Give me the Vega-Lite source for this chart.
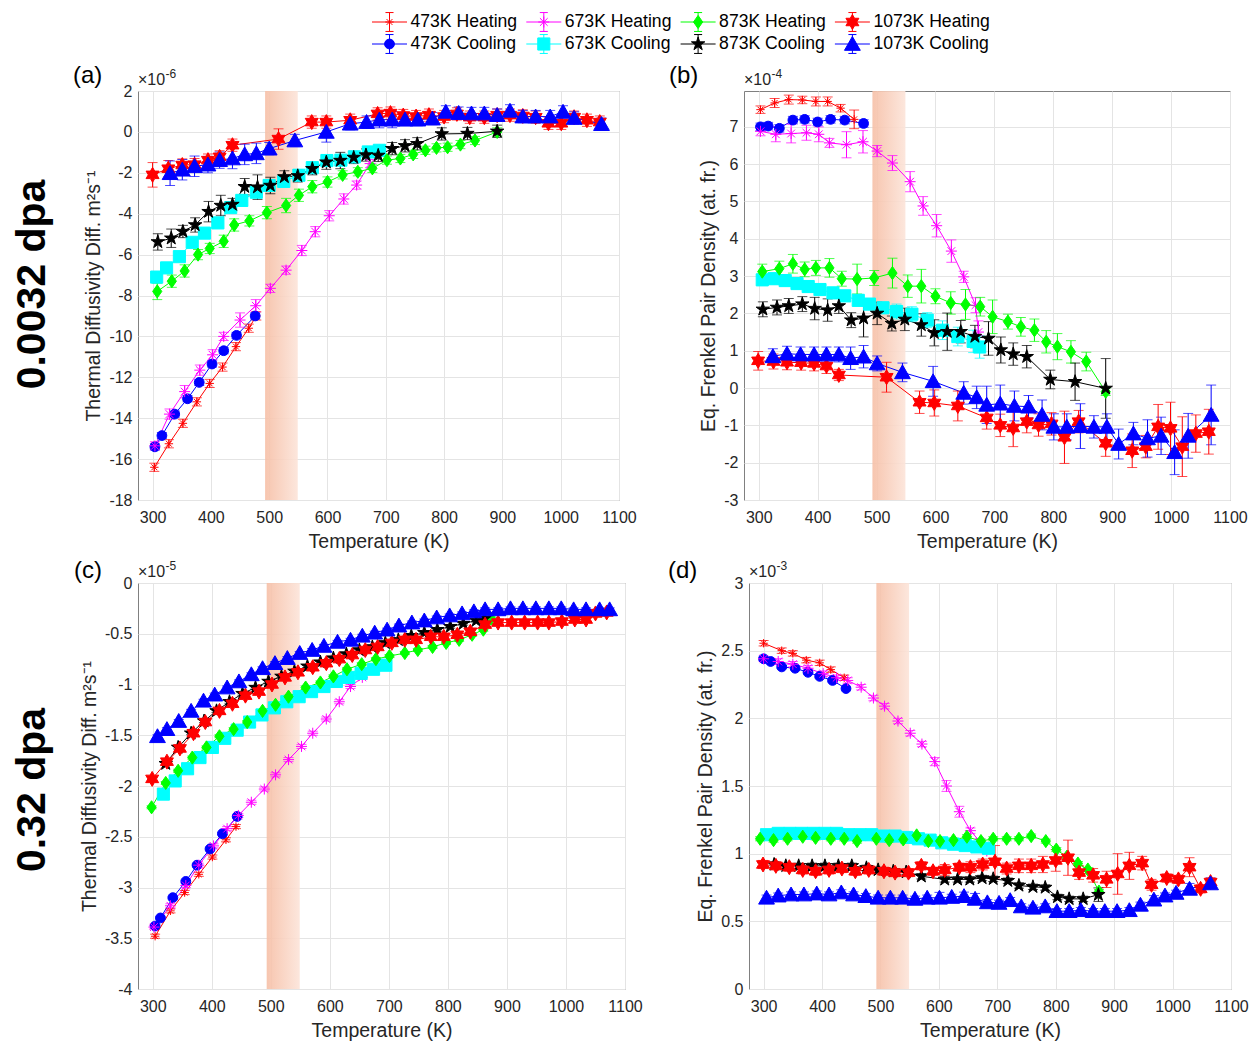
{
  "$schema": "https://vega.github.io/schema/vega-lite/v6.json",
  "padding": {"left": 11, "top": 10, "right": 5, "bottom": 4},
  "background": "white",
  "config": {
    "font": "Liberation Sans",
    "view": {"stroke": "#808080", "strokeWidth": 1},
    "axis": {
      "labelFontSize": 16, "labelColor": "#262626",
      "titleFontSize": 19.5, "titleFontWeight": "normal", "titleColor": "#262626",
      "domain": false, "ticks": false, "tickSize": 0,
      "grid": true, "gridColor": "#e4e4e4", "gridWidth": 1,
      "labelFlush": false, "labelOverlap": false
    },
    "axisX": {"labelPadding": 9, "titlePadding": 7},
    "axisY": {"labelPadding": 6, "titlePadding": 5},
    "legend": {"disable": true}
  },
  "datasets": {
    "pts": [
      {"p":"a","s":"473K Heating","T":303,"v":-16.4,"e":0.2},
      {"p":"a","s":"473K Heating","T":328,"v":-15.25,"e":0.2},
      {"p":"a","s":"473K Heating","T":352,"v":-14.25,"e":0.2},
      {"p":"a","s":"473K Heating","T":376,"v":-13.2,"e":0.2},
      {"p":"a","s":"473K Heating","T":398,"v":-12.3,"e":0.2},
      {"p":"a","s":"473K Heating","T":420,"v":-11.5,"e":0.2},
      {"p":"a","s":"473K Heating","T":443,"v":-10.5,"e":0.2},
      {"p":"a","s":"473K Heating","T":465,"v":-9.6,"e":0.2},
      {"p":"a","s":"473K Heating","T":478,"v":-9.0,"e":0.2},
      {"p":"a","s":"473K Cooling","T":304,"v":-15.4,"e":0.15},
      {"p":"a","s":"473K Cooling","T":316,"v":-14.85,"e":0.15},
      {"p":"a","s":"473K Cooling","T":338,"v":-13.8,"e":0.15},
      {"p":"a","s":"473K Cooling","T":360,"v":-13.05,"e":0.15},
      {"p":"a","s":"473K Cooling","T":380,"v":-12.25,"e":0.15},
      {"p":"a","s":"473K Cooling","T":402,"v":-11.35,"e":0.15},
      {"p":"a","s":"473K Cooling","T":422,"v":-10.7,"e":0.15},
      {"p":"a","s":"473K Cooling","T":444,"v":-9.95,"e":0.15},
      {"p":"a","s":"473K Cooling","T":476,"v":-9.0,"e":0.15},
      {"p":"a","s":"673K Heating","T":304,"v":-15.35,"e":0.2},
      {"p":"a","s":"673K Heating","T":329,"v":-13.8,"e":0.25},
      {"p":"a","s":"673K Heating","T":355,"v":-12.7,"e":0.3},
      {"p":"a","s":"673K Heating","T":381,"v":-11.65,"e":0.25},
      {"p":"a","s":"673K Heating","T":403,"v":-10.9,"e":0.25},
      {"p":"a","s":"673K Heating","T":422,"v":-10.0,"e":0.2},
      {"p":"a","s":"673K Heating","T":450,"v":-9.2,"e":0.35},
      {"p":"a","s":"673K Heating","T":477,"v":-8.5,"e":0.3},
      {"p":"a","s":"673K Heating","T":502,"v":-7.65,"e":0.2},
      {"p":"a","s":"673K Heating","T":529,"v":-6.76,"e":0.2},
      {"p":"a","s":"673K Heating","T":556,"v":-5.8,"e":0.25},
      {"p":"a","s":"673K Heating","T":579,"v":-4.88,"e":0.25},
      {"p":"a","s":"673K Heating","T":603,"v":-4.1,"e":0.25},
      {"p":"a","s":"673K Heating","T":628,"v":-3.28,"e":0.25},
      {"p":"a","s":"673K Heating","T":650,"v":-2.6,"e":0.2},
      {"p":"a","s":"673K Heating","T":673,"v":-1.55,"e":0.2},
      {"p":"a","s":"673K Cooling","T":307,"v":-7.1,"e":0.2},
      {"p":"a","s":"673K Cooling","T":324,"v":-6.65,"e":0.2},
      {"p":"a","s":"673K Cooling","T":346,"v":-6.1,"e":0.2},
      {"p":"a","s":"673K Cooling","T":368,"v":-5.4,"e":0.2},
      {"p":"a","s":"673K Cooling","T":389,"v":-4.95,"e":0.2},
      {"p":"a","s":"673K Cooling","T":412,"v":-4.45,"e":0.2},
      {"p":"a","s":"673K Cooling","T":434,"v":-3.7,"e":0.2},
      {"p":"a","s":"673K Cooling","T":453,"v":-3.35,"e":0.2},
      {"p":"a","s":"673K Cooling","T":478,"v":-2.95,"e":0.2},
      {"p":"a","s":"673K Cooling","T":500,"v":-2.62,"e":0.2},
      {"p":"a","s":"673K Cooling","T":525,"v":-2.42,"e":0.2},
      {"p":"a","s":"673K Cooling","T":551,"v":-2.12,"e":0.2},
      {"p":"a","s":"673K Cooling","T":574,"v":-1.75,"e":0.2},
      {"p":"a","s":"673K Cooling","T":599,"v":-1.4,"e":0.2},
      {"p":"a","s":"673K Cooling","T":623,"v":-1.38,"e":0.2},
      {"p":"a","s":"673K Cooling","T":646,"v":-1.22,"e":0.2},
      {"p":"a","s":"673K Cooling","T":670,"v":-0.98,"e":0.2},
      {"p":"a","s":"673K Cooling","T":689,"v":-0.9,"e":0.2},
      {"p":"a","s":"873K Heating","T":308,"v":-7.8,"e":0.4},
      {"p":"a","s":"873K Heating","T":333,"v":-7.3,"e":0.3},
      {"p":"a","s":"873K Heating","T":355,"v":-6.8,"e":0.3},
      {"p":"a","s":"873K Heating","T":378,"v":-6.0,"e":0.25},
      {"p":"a","s":"873K Heating","T":398,"v":-5.7,"e":0.25},
      {"p":"a","s":"873K Heating","T":422,"v":-5.35,"e":0.3},
      {"p":"a","s":"873K Heating","T":440,"v":-4.55,"e":0.3},
      {"p":"a","s":"873K Heating","T":466,"v":-4.35,"e":0.25},
      {"p":"a","s":"873K Heating","T":496,"v":-3.95,"e":0.3},
      {"p":"a","s":"873K Heating","T":529,"v":-3.6,"e":0.35},
      {"p":"a","s":"873K Heating","T":551,"v":-3.1,"e":0.3},
      {"p":"a","s":"873K Heating","T":574,"v":-2.68,"e":0.3},
      {"p":"a","s":"873K Heating","T":600,"v":-2.45,"e":0.25},
      {"p":"a","s":"873K Heating","T":626,"v":-2.1,"e":0.2},
      {"p":"a","s":"873K Heating","T":652,"v":-1.95,"e":0.2},
      {"p":"a","s":"873K Heating","T":677,"v":-1.78,"e":0.2},
      {"p":"a","s":"873K Heating","T":702,"v":-1.38,"e":0.2},
      {"p":"a","s":"873K Heating","T":725,"v":-1.3,"e":0.2},
      {"p":"a","s":"873K Heating","T":747,"v":-1.1,"e":0.2},
      {"p":"a","s":"873K Heating","T":768,"v":-0.9,"e":0.2},
      {"p":"a","s":"873K Heating","T":787,"v":-0.78,"e":0.2},
      {"p":"a","s":"873K Heating","T":806,"v":-0.75,"e":0.2},
      {"p":"a","s":"873K Heating","T":828,"v":-0.62,"e":0.2},
      {"p":"a","s":"873K Heating","T":853,"v":-0.42,"e":0.2},
      {"p":"a","s":"873K Heating","T":891,"v":0.0,"e":0.2},
      {"p":"a","s":"873K Cooling","T":309,"v":-5.38,"e":0.4},
      {"p":"a","s":"873K Cooling","T":332,"v":-5.2,"e":0.45},
      {"p":"a","s":"873K Cooling","T":352,"v":-4.87,"e":0.3},
      {"p":"a","s":"873K Cooling","T":373,"v":-4.55,"e":0.35},
      {"p":"a","s":"873K Cooling","T":396,"v":-3.9,"e":0.5},
      {"p":"a","s":"873K Cooling","T":417,"v":-3.6,"e":0.5},
      {"p":"a","s":"873K Cooling","T":437,"v":-3.55,"e":0.3},
      {"p":"a","s":"873K Cooling","T":458,"v":-2.68,"e":0.4},
      {"p":"a","s":"873K Cooling","T":480,"v":-2.7,"e":0.6},
      {"p":"a","s":"873K Cooling","T":502,"v":-2.62,"e":0.4},
      {"p":"a","s":"873K Cooling","T":526,"v":-2.2,"e":0.3},
      {"p":"a","s":"873K Cooling","T":549,"v":-2.15,"e":0.3},
      {"p":"a","s":"873K Cooling","T":574,"v":-1.8,"e":0.3},
      {"p":"a","s":"873K Cooling","T":598,"v":-1.48,"e":0.35},
      {"p":"a","s":"873K Cooling","T":622,"v":-1.4,"e":0.4},
      {"p":"a","s":"873K Cooling","T":645,"v":-1.25,"e":0.3},
      {"p":"a","s":"873K Cooling","T":666,"v":-1.13,"e":0.3},
      {"p":"a","s":"873K Cooling","T":687,"v":-1.15,"e":0.3},
      {"p":"a","s":"873K Cooling","T":711,"v":-0.82,"e":0.3},
      {"p":"a","s":"873K Cooling","T":733,"v":-0.68,"e":0.3},
      {"p":"a","s":"873K Cooling","T":754,"v":-0.58,"e":0.3},
      {"p":"a","s":"873K Cooling","T":796,"v":-0.1,"e":0.3},
      {"p":"a","s":"873K Cooling","T":840,"v":-0.08,"e":0.3},
      {"p":"a","s":"873K Cooling","T":891,"v":0.03,"e":0.3},
      {"p":"a","s":"1073K Heating","T":300,"v":-2.1,"e":0.6},
      {"p":"a","s":"1073K Heating","T":327,"v":-1.8,"e":0.4},
      {"p":"a","s":"1073K Heating","T":351,"v":-1.62,"e":0.3},
      {"p":"a","s":"1073K Heating","T":372,"v":-1.6,"e":0.3},
      {"p":"a","s":"1073K Heating","T":395,"v":-1.38,"e":0.3},
      {"p":"a","s":"1073K Heating","T":415,"v":-1.22,"e":0.3},
      {"p":"a","s":"1073K Heating","T":437,"v":-0.65,"e":0.3},
      {"p":"a","s":"1073K Heating","T":516,"v":-0.35,"e":0.5},
      {"p":"a","s":"1073K Heating","T":573,"v":0.48,"e":0.3},
      {"p":"a","s":"1073K Heating","T":598,"v":0.48,"e":0.3},
      {"p":"a","s":"1073K Heating","T":639,"v":0.57,"e":0.3},
      {"p":"a","s":"1073K Heating","T":686,"v":0.88,"e":0.3},
      {"p":"a","s":"1073K Heating","T":708,"v":0.92,"e":0.3},
      {"p":"a","s":"1073K Heating","T":730,"v":0.8,"e":0.3},
      {"p":"a","s":"1073K Heating","T":752,"v":0.75,"e":0.3},
      {"p":"a","s":"1073K Heating","T":774,"v":0.82,"e":0.3},
      {"p":"a","s":"1073K Heating","T":800,"v":0.75,"e":0.3},
      {"p":"a","s":"1073K Heating","T":822,"v":0.88,"e":0.3},
      {"p":"a","s":"1073K Heating","T":844,"v":0.72,"e":0.3},
      {"p":"a","s":"1073K Heating","T":869,"v":0.72,"e":0.3},
      {"p":"a","s":"1073K Heating","T":891,"v":0.82,"e":0.3},
      {"p":"a","s":"1073K Heating","T":913,"v":0.82,"e":0.3},
      {"p":"a","s":"1073K Heating","T":935,"v":0.78,"e":0.3},
      {"p":"a","s":"1073K Heating","T":957,"v":0.72,"e":0.3},
      {"p":"a","s":"1073K Heating","T":979,"v":0.42,"e":0.3},
      {"p":"a","s":"1073K Heating","T":1001,"v":0.42,"e":0.3},
      {"p":"a","s":"1073K Heating","T":1023,"v":0.72,"e":0.3},
      {"p":"a","s":"1073K Heating","T":1045,"v":0.57,"e":0.3},
      {"p":"a","s":"1073K Heating","T":1067,"v":0.48,"e":0.3},
      {"p":"a","s":"1073K Cooling","T":330,"v":-2.02,"e":0.6},
      {"p":"a","s":"1073K Cooling","T":351,"v":-1.85,"e":0.5},
      {"p":"a","s":"1073K Cooling","T":372,"v":-1.68,"e":0.5},
      {"p":"a","s":"1073K Cooling","T":395,"v":-1.6,"e":0.4},
      {"p":"a","s":"1073K Cooling","T":415,"v":-1.38,"e":0.4},
      {"p":"a","s":"1073K Cooling","T":437,"v":-1.3,"e":0.5},
      {"p":"a","s":"1073K Cooling","T":458,"v":-1.1,"e":0.5},
      {"p":"a","s":"1073K Cooling","T":478,"v":-1.05,"e":0.5},
      {"p":"a","s":"1073K Cooling","T":500,"v":-0.82,"e":0.3},
      {"p":"a","s":"1073K Cooling","T":544,"v":-0.42,"e":0.3},
      {"p":"a","s":"1073K Cooling","T":598,"v":0.0,"e":0.5},
      {"p":"a","s":"1073K Cooling","T":639,"v":0.4,"e":0.3},
      {"p":"a","s":"1073K Cooling","T":667,"v":0.48,"e":0.3},
      {"p":"a","s":"1073K Cooling","T":689,"v":0.6,"e":0.4},
      {"p":"a","s":"1073K Cooling","T":711,"v":0.6,"e":0.4},
      {"p":"a","s":"1073K Cooling","T":733,"v":0.6,"e":0.3},
      {"p":"a","s":"1073K Cooling","T":755,"v":0.6,"e":0.3},
      {"p":"a","s":"1073K Cooling","T":780,"v":0.65,"e":0.3},
      {"p":"a","s":"1073K Cooling","T":803,"v":0.98,"e":0.3},
      {"p":"a","s":"1073K Cooling","T":825,"v":0.92,"e":0.3},
      {"p":"a","s":"1073K Cooling","T":847,"v":0.9,"e":0.3},
      {"p":"a","s":"1073K Cooling","T":869,"v":0.9,"e":0.3},
      {"p":"a","s":"1073K Cooling","T":891,"v":0.82,"e":0.3},
      {"p":"a","s":"1073K Cooling","T":913,"v":1.03,"e":0.3},
      {"p":"a","s":"1073K Cooling","T":935,"v":0.75,"e":0.3},
      {"p":"a","s":"1073K Cooling","T":957,"v":0.75,"e":0.3},
      {"p":"a","s":"1073K Cooling","T":982,"v":0.75,"e":0.3},
      {"p":"a","s":"1073K Cooling","T":1004,"v":0.98,"e":0.3},
      {"p":"a","s":"1073K Cooling","T":1023,"v":0.68,"e":0.3},
      {"p":"a","s":"1073K Cooling","T":1070,"v":0.38,"e":0.3},

      {"p":"b","s":"473K Heating","T":303,"v":7.46,"e":0.1},
      {"p":"b","s":"473K Heating","T":327,"v":7.64,"e":0.12},
      {"p":"b","s":"473K Heating","T":351,"v":7.73,"e":0.12},
      {"p":"b","s":"473K Heating","T":374,"v":7.72,"e":0.1},
      {"p":"b","s":"473K Heating","T":397,"v":7.68,"e":0.12},
      {"p":"b","s":"473K Heating","T":417,"v":7.68,"e":0.12},
      {"p":"b","s":"473K Heating","T":439,"v":7.5,"e":0.1},
      {"p":"b","s":"473K Heating","T":462,"v":7.2,"e":0.25},
      {"p":"b","s":"473K Cooling","T":303,"v":7.0,"e":0.1},
      {"p":"b","s":"473K Cooling","T":316,"v":7.02,"e":0.1},
      {"p":"b","s":"473K Cooling","T":335,"v":6.96,"e":0.1},
      {"p":"b","s":"473K Cooling","T":358,"v":7.18,"e":0.1},
      {"p":"b","s":"473K Cooling","T":378,"v":7.2,"e":0.1},
      {"p":"b","s":"473K Cooling","T":400,"v":7.13,"e":0.1},
      {"p":"b","s":"473K Cooling","T":422,"v":7.2,"e":0.1},
      {"p":"b","s":"473K Cooling","T":446,"v":7.18,"e":0.1},
      {"p":"b","s":"473K Cooling","T":478,"v":7.09,"e":0.1},
      {"p":"b","s":"673K Heating","T":303,"v":6.88,"e":0.12},
      {"p":"b","s":"673K Heating","T":329,"v":6.8,"e":0.2},
      {"p":"b","s":"673K Heating","T":355,"v":6.82,"e":0.25},
      {"p":"b","s":"673K Heating","T":381,"v":6.84,"e":0.2},
      {"p":"b","s":"673K Heating","T":402,"v":6.8,"e":0.2},
      {"p":"b","s":"673K Heating","T":420,"v":6.57,"e":0.12},
      {"p":"b","s":"673K Heating","T":449,"v":6.52,"e":0.35},
      {"p":"b","s":"673K Heating","T":477,"v":6.6,"e":0.3},
      {"p":"b","s":"673K Heating","T":501,"v":6.35,"e":0.15},
      {"p":"b","s":"673K Heating","T":527,"v":6.03,"e":0.2},
      {"p":"b","s":"673K Heating","T":557,"v":5.53,"e":0.27},
      {"p":"b","s":"673K Heating","T":579,"v":4.88,"e":0.25},
      {"p":"b","s":"673K Heating","T":602,"v":4.35,"e":0.3},
      {"p":"b","s":"673K Heating","T":627,"v":3.67,"e":0.3},
      {"p":"b","s":"673K Heating","T":648,"v":2.98,"e":0.15},
      {"p":"b","s":"673K Heating","T":668,"v":2.22,"e":0.2},
      {"p":"b","s":"673K Heating","T":673,"v":1.5,"e":0.3},
      {"p":"b","s":"673K Cooling","T":306,"v":2.9,"e":0.15},
      {"p":"b","s":"673K Cooling","T":326,"v":2.93,"e":0.15},
      {"p":"b","s":"673K Cooling","T":345,"v":2.88,"e":0.15},
      {"p":"b","s":"673K Cooling","T":365,"v":2.8,"e":0.15},
      {"p":"b","s":"673K Cooling","T":384,"v":2.72,"e":0.15},
      {"p":"b","s":"673K Cooling","T":404,"v":2.64,"e":0.15},
      {"p":"b","s":"673K Cooling","T":426,"v":2.55,"e":0.15},
      {"p":"b","s":"673K Cooling","T":446,"v":2.47,"e":0.15},
      {"p":"b","s":"673K Cooling","T":469,"v":2.35,"e":0.15},
      {"p":"b","s":"673K Cooling","T":488,"v":2.25,"e":0.15},
      {"p":"b","s":"673K Cooling","T":511,"v":2.15,"e":0.15},
      {"p":"b","s":"673K Cooling","T":534,"v":2.05,"e":0.2},
      {"p":"b","s":"673K Cooling","T":560,"v":1.98,"e":0.2},
      {"p":"b","s":"673K Cooling","T":586,"v":1.82,"e":0.2},
      {"p":"b","s":"673K Cooling","T":612,"v":1.55,"e":0.25},
      {"p":"b","s":"673K Cooling","T":638,"v":1.38,"e":0.25},
      {"p":"b","s":"673K Cooling","T":664,"v":1.25,"e":0.3},
      {"p":"b","s":"673K Cooling","T":675,"v":1.1,"e":0.3},
      {"p":"b","s":"873K Heating","T":306,"v":3.12,"e":0.2},
      {"p":"b","s":"873K Heating","T":335,"v":3.2,"e":0.2},
      {"p":"b","s":"873K Heating","T":358,"v":3.33,"e":0.25},
      {"p":"b","s":"873K Heating","T":378,"v":3.18,"e":0.2},
      {"p":"b","s":"873K Heating","T":397,"v":3.22,"e":0.2},
      {"p":"b","s":"873K Heating","T":420,"v":3.22,"e":0.25},
      {"p":"b","s":"873K Heating","T":441,"v":2.93,"e":0.2},
      {"p":"b","s":"873K Heating","T":467,"v":2.92,"e":0.4},
      {"p":"b","s":"873K Heating","T":496,"v":2.95,"e":0.2},
      {"p":"b","s":"873K Heating","T":527,"v":3.08,"e":0.4},
      {"p":"b","s":"873K Heating","T":553,"v":2.73,"e":0.3},
      {"p":"b","s":"873K Heating","T":576,"v":2.73,"e":0.45},
      {"p":"b","s":"873K Heating","T":600,"v":2.46,"e":0.2},
      {"p":"b","s":"873K Heating","T":626,"v":2.28,"e":0.3},
      {"p":"b","s":"873K Heating","T":651,"v":2.24,"e":0.4},
      {"p":"b","s":"873K Heating","T":676,"v":2.18,"e":0.25},
      {"p":"b","s":"873K Heating","T":697,"v":1.91,"e":0.45},
      {"p":"b","s":"873K Heating","T":723,"v":1.78,"e":0.2},
      {"p":"b","s":"873K Heating","T":745,"v":1.64,"e":0.25},
      {"p":"b","s":"873K Heating","T":768,"v":1.55,"e":0.3},
      {"p":"b","s":"873K Heating","T":788,"v":1.24,"e":0.3},
      {"p":"b","s":"873K Heating","T":807,"v":1.11,"e":0.35},
      {"p":"b","s":"873K Heating","T":830,"v":0.97,"e":0.3},
      {"p":"b","s":"873K Heating","T":856,"v":0.71,"e":0.25},
      {"p":"b","s":"873K Heating","T":889,"v":-0.1,"e":0.1},
      {"p":"b","s":"873K Cooling","T":307,"v":2.11,"e":0.2},
      {"p":"b","s":"873K Cooling","T":331,"v":2.16,"e":0.2},
      {"p":"b","s":"873K Cooling","T":351,"v":2.2,"e":0.2},
      {"p":"b","s":"873K Cooling","T":374,"v":2.25,"e":0.2},
      {"p":"b","s":"873K Cooling","T":395,"v":2.13,"e":0.3},
      {"p":"b","s":"873K Cooling","T":417,"v":2.09,"e":0.3},
      {"p":"b","s":"873K Cooling","T":436,"v":2.2,"e":0.2},
      {"p":"b","s":"873K Cooling","T":457,"v":1.82,"e":0.2},
      {"p":"b","s":"873K Cooling","T":478,"v":1.87,"e":0.5},
      {"p":"b","s":"873K Cooling","T":501,"v":2.0,"e":0.3},
      {"p":"b","s":"873K Cooling","T":526,"v":1.73,"e":0.2},
      {"p":"b","s":"873K Cooling","T":548,"v":1.84,"e":0.3},
      {"p":"b","s":"873K Cooling","T":576,"v":1.69,"e":0.3},
      {"p":"b","s":"873K Cooling","T":598,"v":1.48,"e":0.35},
      {"p":"b","s":"873K Cooling","T":620,"v":1.51,"e":0.5},
      {"p":"b","s":"873K Cooling","T":643,"v":1.51,"e":0.3},
      {"p":"b","s":"873K Cooling","T":667,"v":1.38,"e":0.3},
      {"p":"b","s":"873K Cooling","T":690,"v":1.33,"e":0.45},
      {"p":"b","s":"873K Cooling","T":711,"v":1.02,"e":0.35},
      {"p":"b","s":"873K Cooling","T":732,"v":0.91,"e":0.3},
      {"p":"b","s":"873K Cooling","T":755,"v":0.84,"e":0.3},
      {"p":"b","s":"873K Cooling","T":795,"v":0.23,"e":0.25},
      {"p":"b","s":"873K Cooling","T":837,"v":0.17,"e":0.5},
      {"p":"b","s":"873K Cooling","T":889,"v":-0.01,"e":0.8},
      {"p":"b","s":"1073K Heating","T":299,"v":0.73,"e":0.25},
      {"p":"b","s":"1073K Heating","T":325,"v":0.71,"e":0.2},
      {"p":"b","s":"1073K Heating","T":348,"v":0.69,"e":0.2},
      {"p":"b","s":"1073K Heating","T":372,"v":0.68,"e":0.2},
      {"p":"b","s":"1073K Heating","T":394,"v":0.66,"e":0.2},
      {"p":"b","s":"1073K Heating","T":415,"v":0.59,"e":0.2},
      {"p":"b","s":"1073K Heating","T":436,"v":0.35,"e":0.15},
      {"p":"b","s":"1073K Heating","T":517,"v":0.29,"e":0.4},
      {"p":"b","s":"1073K Heating","T":573,"v":-0.38,"e":0.3},
      {"p":"b","s":"1073K Heating","T":598,"v":-0.4,"e":0.35},
      {"p":"b","s":"1073K Heating","T":638,"v":-0.48,"e":0.4},
      {"p":"b","s":"1073K Heating","T":687,"v":-0.8,"e":0.3},
      {"p":"b","s":"1073K Heating","T":710,"v":-1.0,"e":0.3},
      {"p":"b","s":"1073K Heating","T":732,"v":-1.07,"e":0.5},
      {"p":"b","s":"1073K Heating","T":755,"v":-0.9,"e":0.3},
      {"p":"b","s":"1073K Heating","T":775,"v":-0.99,"e":0.3},
      {"p":"b","s":"1073K Heating","T":797,"v":-0.96,"e":0.3},
      {"p":"b","s":"1073K Heating","T":819,"v":-1.32,"e":0.7},
      {"p":"b","s":"1073K Heating","T":843,"v":-0.9,"e":0.3},
      {"p":"b","s":"1073K Heating","T":889,"v":-1.48,"e":0.35},
      {"p":"b","s":"1073K Heating","T":934,"v":-1.68,"e":0.45},
      {"p":"b","s":"1073K Heating","T":957,"v":-1.57,"e":0.3},
      {"p":"b","s":"1073K Heating","T":978,"v":-1.04,"e":0.6},
      {"p":"b","s":"1073K Heating","T":999,"v":-1.08,"e":0.7},
      {"p":"b","s":"1073K Heating","T":1019,"v":-1.57,"e":0.8},
      {"p":"b","s":"1073K Heating","T":1042,"v":-1.22,"e":0.5},
      {"p":"b","s":"1073K Heating","T":1064,"v":-1.17,"e":0.6},
      {"p":"b","s":"1073K Cooling","T":324,"v":0.85,"e":0.2},
      {"p":"b","s":"1073K Cooling","T":348,"v":0.92,"e":0.2},
      {"p":"b","s":"1073K Cooling","T":371,"v":0.9,"e":0.2},
      {"p":"b","s":"1073K Cooling","T":394,"v":0.9,"e":0.2},
      {"p":"b","s":"1073K Cooling","T":415,"v":0.9,"e":0.2},
      {"p":"b","s":"1073K Cooling","T":436,"v":0.9,"e":0.2},
      {"p":"b","s":"1073K Cooling","T":456,"v":0.8,"e":0.3},
      {"p":"b","s":"1073K Cooling","T":478,"v":0.84,"e":0.3},
      {"p":"b","s":"1073K Cooling","T":501,"v":0.66,"e":0.2},
      {"p":"b","s":"1073K Cooling","T":544,"v":0.42,"e":0.25},
      {"p":"b","s":"1073K Cooling","T":596,"v":0.18,"e":0.4},
      {"p":"b","s":"1073K Cooling","T":648,"v":-0.13,"e":0.3},
      {"p":"b","s":"1073K Cooling","T":670,"v":-0.25,"e":0.3},
      {"p":"b","s":"1073K Cooling","T":687,"v":-0.45,"e":0.5},
      {"p":"b","s":"1073K Cooling","T":710,"v":-0.42,"e":0.5},
      {"p":"b","s":"1073K Cooling","T":734,"v":-0.48,"e":0.4},
      {"p":"b","s":"1073K Cooling","T":758,"v":-0.5,"e":0.3},
      {"p":"b","s":"1073K Cooling","T":781,"v":-0.72,"e":0.4},
      {"p":"b","s":"1073K Cooling","T":801,"v":-1.04,"e":0.35},
      {"p":"b","s":"1073K Cooling","T":823,"v":-1.04,"e":0.35},
      {"p":"b","s":"1073K Cooling","T":846,"v":-1.02,"e":0.6},
      {"p":"b","s":"1073K Cooling","T":869,"v":-1.04,"e":0.3},
      {"p":"b","s":"1073K Cooling","T":891,"v":-1.04,"e":0.35},
      {"p":"b","s":"1073K Cooling","T":911,"v":-1.5,"e":0.4},
      {"p":"b","s":"1073K Cooling","T":936,"v":-1.22,"e":0.3},
      {"p":"b","s":"1073K Cooling","T":960,"v":-1.35,"e":0.5},
      {"p":"b","s":"1073K Cooling","T":983,"v":-1.28,"e":0.5},
      {"p":"b","s":"1073K Cooling","T":1006,"v":-1.72,"e":0.6},
      {"p":"b","s":"1073K Cooling","T":1029,"v":-1.28,"e":0.6},
      {"p":"b","s":"1073K Cooling","T":1068,"v":-0.72,"e":0.8},

      {"p":"c","s":"473K Heating","T":304,"v":-3.48,"e":0.02},
      {"p":"c","s":"473K Heating","T":330,"v":-3.23,"e":0.02},
      {"p":"c","s":"473K Heating","T":354,"v":-3.05,"e":0.02},
      {"p":"c","s":"473K Heating","T":378,"v":-2.87,"e":0.02},
      {"p":"c","s":"473K Heating","T":401,"v":-2.7,"e":0.02},
      {"p":"c","s":"473K Heating","T":424,"v":-2.53,"e":0.02},
      {"p":"c","s":"473K Heating","T":441,"v":-2.4,"e":0.02},
      {"p":"c","s":"473K Cooling","T":304,"v":-3.38,"e":0.01},
      {"p":"c","s":"473K Cooling","T":313,"v":-3.3,"e":0.01},
      {"p":"c","s":"473K Cooling","T":334,"v":-3.1,"e":0.01},
      {"p":"c","s":"473K Cooling","T":356,"v":-2.94,"e":0.01},
      {"p":"c","s":"473K Cooling","T":375,"v":-2.78,"e":0.01},
      {"p":"c","s":"473K Cooling","T":397,"v":-2.62,"e":0.01},
      {"p":"c","s":"473K Cooling","T":418,"v":-2.47,"e":0.01},
      {"p":"c","s":"473K Cooling","T":443,"v":-2.3,"e":0.01},
      {"p":"c","s":"673K Heating","T":302,"v":-3.39,"e":0.02},
      {"p":"c","s":"673K Heating","T":330,"v":-3.18,"e":0.02},
      {"p":"c","s":"673K Heating","T":356,"v":-2.98,"e":0.02},
      {"p":"c","s":"673K Heating","T":378,"v":-2.78,"e":0.02},
      {"p":"c","s":"673K Heating","T":403,"v":-2.59,"e":0.02},
      {"p":"c","s":"673K Heating","T":426,"v":-2.42,"e":0.02},
      {"p":"c","s":"673K Heating","T":445,"v":-2.29,"e":0.02},
      {"p":"c","s":"673K Heating","T":467,"v":-2.16,"e":0.02},
      {"p":"c","s":"673K Heating","T":489,"v":-2.03,"e":0.02},
      {"p":"c","s":"673K Heating","T":508,"v":-1.89,"e":0.02},
      {"p":"c","s":"673K Heating","T":530,"v":-1.74,"e":0.02},
      {"p":"c","s":"673K Heating","T":552,"v":-1.61,"e":0.02},
      {"p":"c","s":"673K Heating","T":571,"v":-1.48,"e":0.02},
      {"p":"c","s":"673K Heating","T":594,"v":-1.34,"e":0.02},
      {"p":"c","s":"673K Heating","T":616,"v":-1.17,"e":0.02},
      {"p":"c","s":"673K Heating","T":635,"v":-1.02,"e":0.02},
      {"p":"c","s":"673K Heating","T":655,"v":-0.93,"e":0.02},
      {"p":"c","s":"673K Heating","T":676,"v":-0.84,"e":0.02},
      {"p":"c","s":"673K Cooling","T":318,"v":-2.08,"e":0.015},
      {"p":"c","s":"673K Cooling","T":338,"v":-1.95,"e":0.015},
      {"p":"c","s":"673K Cooling","T":359,"v":-1.83,"e":0.015},
      {"p":"c","s":"673K Cooling","T":380,"v":-1.72,"e":0.015},
      {"p":"c","s":"673K Cooling","T":401,"v":-1.62,"e":0.015},
      {"p":"c","s":"673K Cooling","T":422,"v":-1.53,"e":0.015},
      {"p":"c","s":"673K Cooling","T":443,"v":-1.45,"e":0.015},
      {"p":"c","s":"673K Cooling","T":464,"v":-1.37,"e":0.015},
      {"p":"c","s":"673K Cooling","T":485,"v":-1.3,"e":0.015},
      {"p":"c","s":"673K Cooling","T":506,"v":-1.23,"e":0.015},
      {"p":"c","s":"673K Cooling","T":527,"v":-1.17,"e":0.015},
      {"p":"c","s":"673K Cooling","T":548,"v":-1.12,"e":0.015},
      {"p":"c","s":"673K Cooling","T":569,"v":-1.07,"e":0.015},
      {"p":"c","s":"673K Cooling","T":590,"v":-1.02,"e":0.015},
      {"p":"c","s":"673K Cooling","T":611,"v":-0.97,"e":0.015},
      {"p":"c","s":"673K Cooling","T":632,"v":-0.93,"e":0.015},
      {"p":"c","s":"673K Cooling","T":653,"v":-0.89,"e":0.015},
      {"p":"c","s":"673K Cooling","T":674,"v":-0.85,"e":0.015},
      {"p":"c","s":"673K Cooling","T":695,"v":-0.81,"e":0.015},
      {"p":"c","s":"873K Heating","T":298,"v":-2.21,"e":0.015},
      {"p":"c","s":"873K Heating","T":322,"v":-1.97,"e":0.015},
      {"p":"c","s":"873K Heating","T":343,"v":-1.85,"e":0.015},
      {"p":"c","s":"873K Heating","T":367,"v":-1.72,"e":0.015},
      {"p":"c","s":"873K Heating","T":391,"v":-1.62,"e":0.015},
      {"p":"c","s":"873K Heating","T":413,"v":-1.51,"e":0.015},
      {"p":"c","s":"873K Heating","T":437,"v":-1.44,"e":0.015},
      {"p":"c","s":"873K Heating","T":460,"v":-1.37,"e":0.015},
      {"p":"c","s":"873K Heating","T":486,"v":-1.26,"e":0.015},
      {"p":"c","s":"873K Heating","T":508,"v":-1.2,"e":0.015},
      {"p":"c","s":"873K Heating","T":530,"v":-1.12,"e":0.015},
      {"p":"c","s":"873K Heating","T":559,"v":-1.03,"e":0.015},
      {"p":"c","s":"873K Heating","T":584,"v":-0.98,"e":0.015},
      {"p":"c","s":"873K Heating","T":606,"v":-0.92,"e":0.015},
      {"p":"c","s":"873K Heating","T":629,"v":-0.85,"e":0.015},
      {"p":"c","s":"873K Heating","T":654,"v":-0.8,"e":0.015},
      {"p":"c","s":"873K Heating","T":678,"v":-0.75,"e":0.015},
      {"p":"c","s":"873K Heating","T":701,"v":-0.72,"e":0.015},
      {"p":"c","s":"873K Heating","T":727,"v":-0.69,"e":0.015},
      {"p":"c","s":"873K Heating","T":749,"v":-0.66,"e":0.015},
      {"p":"c","s":"873K Heating","T":774,"v":-0.63,"e":0.015},
      {"p":"c","s":"873K Heating","T":797,"v":-0.59,"e":0.015},
      {"p":"c","s":"873K Heating","T":819,"v":-0.56,"e":0.015},
      {"p":"c","s":"873K Heating","T":841,"v":-0.51,"e":0.015},
      {"p":"c","s":"873K Heating","T":860,"v":-0.46,"e":0.015},
      {"p":"c","s":"873K Heating","T":873,"v":-0.35,"e":0.015},
      {"p":"c","s":"873K Cooling","T":322,"v":-1.78,"e":0.015},
      {"p":"c","s":"873K Cooling","T":343,"v":-1.62,"e":0.015},
      {"p":"c","s":"873K Cooling","T":365,"v":-1.48,"e":0.015},
      {"p":"c","s":"873K Cooling","T":387,"v":-1.36,"e":0.015},
      {"p":"c","s":"873K Cooling","T":408,"v":-1.26,"e":0.015},
      {"p":"c","s":"873K Cooling","T":430,"v":-1.17,"e":0.015},
      {"p":"c","s":"873K Cooling","T":452,"v":-1.09,"e":0.015},
      {"p":"c","s":"873K Cooling","T":474,"v":-1.03,"e":0.015},
      {"p":"c","s":"873K Cooling","T":496,"v":-0.97,"e":0.015},
      {"p":"c","s":"873K Cooling","T":518,"v":-0.92,"e":0.015},
      {"p":"c","s":"873K Cooling","T":540,"v":-0.87,"e":0.015},
      {"p":"c","s":"873K Cooling","T":562,"v":-0.82,"e":0.015},
      {"p":"c","s":"873K Cooling","T":584,"v":-0.78,"e":0.015},
      {"p":"c","s":"873K Cooling","T":606,"v":-0.74,"e":0.015},
      {"p":"c","s":"873K Cooling","T":628,"v":-0.7,"e":0.015},
      {"p":"c","s":"873K Cooling","T":650,"v":-0.66,"e":0.015},
      {"p":"c","s":"873K Cooling","T":672,"v":-0.63,"e":0.015},
      {"p":"c","s":"873K Cooling","T":694,"v":-0.59,"e":0.015},
      {"p":"c","s":"873K Cooling","T":716,"v":-0.56,"e":0.015},
      {"p":"c","s":"873K Cooling","T":738,"v":-0.52,"e":0.015},
      {"p":"c","s":"873K Cooling","T":760,"v":-0.49,"e":0.015},
      {"p":"c","s":"873K Cooling","T":782,"v":-0.46,"e":0.015},
      {"p":"c","s":"873K Cooling","T":804,"v":-0.43,"e":0.015},
      {"p":"c","s":"873K Cooling","T":826,"v":-0.4,"e":0.015},
      {"p":"c","s":"873K Cooling","T":848,"v":-0.37,"e":0.015},
      {"p":"c","s":"873K Cooling","T":862,"v":-0.35,"e":0.015},
      {"p":"c","s":"1073K Heating","T":299,"v":-1.93,"e":0.02},
      {"p":"c","s":"1073K Heating","T":324,"v":-1.76,"e":0.02},
      {"p":"c","s":"1073K Heating","T":346,"v":-1.63,"e":0.02},
      {"p":"c","s":"1073K Heating","T":369,"v":-1.48,"e":0.02},
      {"p":"c","s":"1073K Heating","T":389,"v":-1.37,"e":0.02},
      {"p":"c","s":"1073K Heating","T":413,"v":-1.26,"e":0.02},
      {"p":"c","s":"1073K Heating","T":435,"v":-1.19,"e":0.02},
      {"p":"c","s":"1073K Heating","T":457,"v":-1.11,"e":0.02},
      {"p":"c","s":"1073K Heating","T":480,"v":-1.07,"e":0.02},
      {"p":"c","s":"1073K Heating","T":502,"v":-1.0,"e":0.02},
      {"p":"c","s":"1073K Heating","T":524,"v":-0.93,"e":0.02},
      {"p":"c","s":"1073K Heating","T":546,"v":-0.88,"e":0.02},
      {"p":"c","s":"1073K Heating","T":571,"v":-0.83,"e":0.02},
      {"p":"c","s":"1073K Heating","T":594,"v":-0.79,"e":0.02},
      {"p":"c","s":"1073K Heating","T":616,"v":-0.75,"e":0.02},
      {"p":"c","s":"1073K Heating","T":638,"v":-0.71,"e":0.02},
      {"p":"c","s":"1073K Heating","T":660,"v":-0.66,"e":0.02},
      {"p":"c","s":"1073K Heating","T":681,"v":-0.63,"e":0.02},
      {"p":"c","s":"1073K Heating","T":705,"v":-0.59,"e":0.02},
      {"p":"c","s":"1073K Heating","T":727,"v":-0.56,"e":0.02},
      {"p":"c","s":"1073K Heating","T":746,"v":-0.56,"e":0.02},
      {"p":"c","s":"1073K Heating","T":771,"v":-0.53,"e":0.02},
      {"p":"c","s":"1073K Heating","T":793,"v":-0.53,"e":0.02},
      {"p":"c","s":"1073K Heating","T":816,"v":-0.51,"e":0.02},
      {"p":"c","s":"1073K Heating","T":838,"v":-0.48,"e":0.02},
      {"p":"c","s":"1073K Heating","T":863,"v":-0.41,"e":0.02},
      {"p":"c","s":"1073K Heating","T":885,"v":-0.39,"e":0.02},
      {"p":"c","s":"1073K Heating","T":908,"v":-0.39,"e":0.02},
      {"p":"c","s":"1073K Heating","T":930,"v":-0.39,"e":0.02},
      {"p":"c","s":"1073K Heating","T":952,"v":-0.39,"e":0.02},
      {"p":"c","s":"1073K Heating","T":971,"v":-0.39,"e":0.02},
      {"p":"c","s":"1073K Heating","T":993,"v":-0.38,"e":0.02},
      {"p":"c","s":"1073K Heating","T":1015,"v":-0.36,"e":0.02},
      {"p":"c","s":"1073K Heating","T":1034,"v":-0.36,"e":0.02},
      {"p":"c","s":"1073K Heating","T":1050,"v":-0.3,"e":0.02},
      {"p":"c","s":"1073K Heating","T":1069,"v":-0.29,"e":0.02},
      {"p":"c","s":"1073K Cooling","T":308,"v":-1.51,"e":0.015},
      {"p":"c","s":"1073K Cooling","T":324,"v":-1.44,"e":0.015},
      {"p":"c","s":"1073K Cooling","T":344,"v":-1.36,"e":0.015},
      {"p":"c","s":"1073K Cooling","T":365,"v":-1.26,"e":0.015},
      {"p":"c","s":"1073K Cooling","T":386,"v":-1.16,"e":0.015},
      {"p":"c","s":"1073K Cooling","T":405,"v":-1.1,"e":0.015},
      {"p":"c","s":"1073K Cooling","T":426,"v":-1.03,"e":0.015},
      {"p":"c","s":"1073K Cooling","T":446,"v":-0.97,"e":0.015},
      {"p":"c","s":"1073K Cooling","T":467,"v":-0.9,"e":0.015},
      {"p":"c","s":"1073K Cooling","T":486,"v":-0.84,"e":0.015},
      {"p":"c","s":"1073K Cooling","T":507,"v":-0.79,"e":0.015},
      {"p":"c","s":"1073K Cooling","T":528,"v":-0.74,"e":0.015},
      {"p":"c","s":"1073K Cooling","T":549,"v":-0.69,"e":0.015},
      {"p":"c","s":"1073K Cooling","T":570,"v":-0.66,"e":0.015},
      {"p":"c","s":"1073K Cooling","T":590,"v":-0.62,"e":0.015},
      {"p":"c","s":"1073K Cooling","T":613,"v":-0.58,"e":0.015},
      {"p":"c","s":"1073K Cooling","T":635,"v":-0.56,"e":0.015},
      {"p":"c","s":"1073K Cooling","T":655,"v":-0.52,"e":0.015},
      {"p":"c","s":"1073K Cooling","T":676,"v":-0.49,"e":0.015},
      {"p":"c","s":"1073K Cooling","T":697,"v":-0.46,"e":0.015},
      {"p":"c","s":"1073K Cooling","T":717,"v":-0.42,"e":0.015},
      {"p":"c","s":"1073K Cooling","T":739,"v":-0.39,"e":0.015},
      {"p":"c","s":"1073K Cooling","T":760,"v":-0.37,"e":0.015},
      {"p":"c","s":"1073K Cooling","T":781,"v":-0.34,"e":0.015},
      {"p":"c","s":"1073K Cooling","T":803,"v":-0.32,"e":0.015},
      {"p":"c","s":"1073K Cooling","T":824,"v":-0.3,"e":0.015},
      {"p":"c","s":"1073K Cooling","T":844,"v":-0.28,"e":0.015},
      {"p":"c","s":"1073K Cooling","T":863,"v":-0.26,"e":0.015},
      {"p":"c","s":"1073K Cooling","T":885,"v":-0.26,"e":0.015},
      {"p":"c","s":"1073K Cooling","T":906,"v":-0.25,"e":0.015},
      {"p":"c","s":"1073K Cooling","T":927,"v":-0.25,"e":0.015},
      {"p":"c","s":"1073K Cooling","T":949,"v":-0.25,"e":0.015},
      {"p":"c","s":"1073K Cooling","T":971,"v":-0.25,"e":0.015},
      {"p":"c","s":"1073K Cooling","T":992,"v":-0.25,"e":0.015},
      {"p":"c","s":"1073K Cooling","T":1013,"v":-0.26,"e":0.015},
      {"p":"c","s":"1073K Cooling","T":1034,"v":-0.26,"e":0.015},
      {"p":"c","s":"1073K Cooling","T":1057,"v":-0.26,"e":0.015},
      {"p":"c","s":"1073K Cooling","T":1074,"v":-0.26,"e":0.015},

      {"p":"d","s":"473K Heating","T":300,"v":2.555,"e":0.02},
      {"p":"d","s":"473K Heating","T":331,"v":2.5,"e":0.02},
      {"p":"d","s":"473K Heating","T":350,"v":2.48,"e":0.02},
      {"p":"d","s":"473K Heating","T":373,"v":2.43,"e":0.02},
      {"p":"d","s":"473K Heating","T":396,"v":2.41,"e":0.02},
      {"p":"d","s":"473K Heating","T":415,"v":2.36,"e":0.02},
      {"p":"d","s":"473K Heating","T":438,"v":2.3,"e":0.02},
      {"p":"d","s":"473K Cooling","T":300,"v":2.44,"e":0.01},
      {"p":"d","s":"473K Cooling","T":312,"v":2.42,"e":0.01},
      {"p":"d","s":"473K Cooling","T":331,"v":2.38,"e":0.01},
      {"p":"d","s":"473K Cooling","T":354,"v":2.37,"e":0.01},
      {"p":"d","s":"473K Cooling","T":376,"v":2.34,"e":0.01},
      {"p":"d","s":"473K Cooling","T":396,"v":2.31,"e":0.01},
      {"p":"d","s":"473K Cooling","T":418,"v":2.28,"e":0.01},
      {"p":"d","s":"473K Cooling","T":441,"v":2.22,"e":0.01},
      {"p":"d","s":"673K Heating","T":300,"v":2.44,"e":0.02},
      {"p":"d","s":"673K Heating","T":325,"v":2.42,"e":0.02},
      {"p":"d","s":"673K Heating","T":350,"v":2.4,"e":0.02},
      {"p":"d","s":"673K Heating","T":376,"v":2.37,"e":0.02},
      {"p":"d","s":"673K Heating","T":402,"v":2.33,"e":0.02},
      {"p":"d","s":"673K Heating","T":425,"v":2.3,"e":0.02},
      {"p":"d","s":"673K Heating","T":444,"v":2.28,"e":0.02},
      {"p":"d","s":"673K Heating","T":467,"v":2.23,"e":0.02},
      {"p":"d","s":"673K Heating","T":488,"v":2.15,"e":0.02},
      {"p":"d","s":"673K Heating","T":507,"v":2.09,"e":0.02},
      {"p":"d","s":"673K Heating","T":530,"v":1.98,"e":0.02},
      {"p":"d","s":"673K Heating","T":551,"v":1.89,"e":0.02},
      {"p":"d","s":"673K Heating","T":571,"v":1.81,"e":0.02},
      {"p":"d","s":"673K Heating","T":593,"v":1.68,"e":0.03},
      {"p":"d","s":"673K Heating","T":613,"v":1.5,"e":0.04},
      {"p":"d","s":"673K Heating","T":635,"v":1.31,"e":0.04},
      {"p":"d","s":"673K Heating","T":654,"v":1.17,"e":0.02},
      {"p":"d","s":"673K Heating","T":670,"v":1.09,"e":0.02},
      {"p":"d","s":"673K Heating","T":682,"v":1.02,"e":0.02},
      {"p":"d","s":"673K Cooling","T":305,"v":1.14,"e":0.015},
      {"p":"d","s":"673K Cooling","T":325,"v":1.15,"e":0.015},
      {"p":"d","s":"673K Cooling","T":345,"v":1.15,"e":0.015},
      {"p":"d","s":"673K Cooling","T":365,"v":1.15,"e":0.015},
      {"p":"d","s":"673K Cooling","T":385,"v":1.15,"e":0.015},
      {"p":"d","s":"673K Cooling","T":405,"v":1.15,"e":0.015},
      {"p":"d","s":"673K Cooling","T":425,"v":1.15,"e":0.015},
      {"p":"d","s":"673K Cooling","T":445,"v":1.14,"e":0.015},
      {"p":"d","s":"673K Cooling","T":465,"v":1.14,"e":0.015},
      {"p":"d","s":"673K Cooling","T":485,"v":1.14,"e":0.015},
      {"p":"d","s":"673K Cooling","T":505,"v":1.13,"e":0.015},
      {"p":"d","s":"673K Cooling","T":525,"v":1.13,"e":0.015},
      {"p":"d","s":"673K Cooling","T":545,"v":1.12,"e":0.015},
      {"p":"d","s":"673K Cooling","T":565,"v":1.11,"e":0.015},
      {"p":"d","s":"673K Cooling","T":585,"v":1.1,"e":0.015},
      {"p":"d","s":"673K Cooling","T":605,"v":1.08,"e":0.015},
      {"p":"d","s":"673K Cooling","T":625,"v":1.07,"e":0.015},
      {"p":"d","s":"673K Cooling","T":645,"v":1.06,"e":0.015},
      {"p":"d","s":"673K Cooling","T":665,"v":1.05,"e":0.015},
      {"p":"d","s":"673K Cooling","T":685,"v":1.04,"e":0.015},
      {"p":"d","s":"873K Heating","T":294,"v":1.11,"e":0.015},
      {"p":"d","s":"873K Heating","T":317,"v":1.1,"e":0.015},
      {"p":"d","s":"873K Heating","T":341,"v":1.11,"e":0.015},
      {"p":"d","s":"873K Heating","T":367,"v":1.125,"e":0.015},
      {"p":"d","s":"873K Heating","T":389,"v":1.117,"e":0.015},
      {"p":"d","s":"873K Heating","T":415,"v":1.11,"e":0.015},
      {"p":"d","s":"873K Heating","T":438,"v":1.11,"e":0.015},
      {"p":"d","s":"873K Heating","T":460,"v":1.093,"e":0.015},
      {"p":"d","s":"873K Heating","T":493,"v":1.11,"e":0.015},
      {"p":"d","s":"873K Heating","T":515,"v":1.1,"e":0.015},
      {"p":"d","s":"873K Heating","T":539,"v":1.105,"e":0.015},
      {"p":"d","s":"873K Heating","T":562,"v":1.135,"e":0.015},
      {"p":"d","s":"873K Heating","T":582,"v":1.093,"e":0.015},
      {"p":"d","s":"873K Heating","T":602,"v":1.093,"e":0.015},
      {"p":"d","s":"873K Heating","T":625,"v":1.1,"e":0.015},
      {"p":"d","s":"873K Heating","T":648,"v":1.125,"e":0.015},
      {"p":"d","s":"873K Heating","T":672,"v":1.093,"e":0.015},
      {"p":"d","s":"873K Heating","T":693,"v":1.11,"e":0.015},
      {"p":"d","s":"873K Heating","T":716,"v":1.11,"e":0.015},
      {"p":"d","s":"873K Heating","T":737,"v":1.11,"e":0.015},
      {"p":"d","s":"873K Heating","T":758,"v":1.13,"e":0.015},
      {"p":"d","s":"873K Heating","T":783,"v":1.093,"e":0.015},
      {"p":"d","s":"873K Heating","T":801,"v":1.03,"e":0.015},
      {"p":"d","s":"873K Heating","T":819,"v":0.977,"e":0.015},
      {"p":"d","s":"873K Heating","T":838,"v":0.927,"e":0.015},
      {"p":"d","s":"873K Heating","T":855,"v":0.883,"e":0.015},
      {"p":"d","s":"873K Heating","T":874,"v":0.72,"e":0.015},
      {"p":"d","s":"873K Cooling","T":318,"v":0.92,"e":0.02},
      {"p":"d","s":"873K Cooling","T":338,"v":0.91,"e":0.02},
      {"p":"d","s":"873K Cooling","T":360,"v":0.91,"e":0.02},
      {"p":"d","s":"873K Cooling","T":383,"v":0.91,"e":0.02},
      {"p":"d","s":"873K Cooling","T":405,"v":0.91,"e":0.02},
      {"p":"d","s":"873K Cooling","T":428,"v":0.91,"e":0.02},
      {"p":"d","s":"873K Cooling","T":451,"v":0.91,"e":0.02},
      {"p":"d","s":"873K Cooling","T":476,"v":0.895,"e":0.02},
      {"p":"d","s":"873K Cooling","T":496,"v":0.88,"e":0.02},
      {"p":"d","s":"873K Cooling","T":522,"v":0.87,"e":0.02},
      {"p":"d","s":"873K Cooling","T":544,"v":0.864,"e":0.02},
      {"p":"d","s":"873K Cooling","T":570,"v":0.833,"e":0.02},
      {"p":"d","s":"873K Cooling","T":610,"v":0.81,"e":0.02},
      {"p":"d","s":"873K Cooling","T":632,"v":0.81,"e":0.02},
      {"p":"d","s":"873K Cooling","T":653,"v":0.81,"e":0.02},
      {"p":"d","s":"873K Cooling","T":674,"v":0.82,"e":0.02},
      {"p":"d","s":"873K Cooling","T":693,"v":0.814,"e":0.02},
      {"p":"d","s":"873K Cooling","T":718,"v":0.8,"e":0.02},
      {"p":"d","s":"873K Cooling","T":737,"v":0.765,"e":0.02},
      {"p":"d","s":"873K Cooling","T":761,"v":0.755,"e":0.02},
      {"p":"d","s":"873K Cooling","T":782,"v":0.75,"e":0.02},
      {"p":"d","s":"873K Cooling","T":803,"v":0.68,"e":0.02},
      {"p":"d","s":"873K Cooling","T":823,"v":0.666,"e":0.02},
      {"p":"d","s":"873K Cooling","T":847,"v":0.666,"e":0.02},
      {"p":"d","s":"873K Cooling","T":873,"v":0.697,"e":0.05},
      {"p":"d","s":"1073K Heating","T":299,"v":0.92,"e":0.03},
      {"p":"d","s":"1073K Heating","T":321,"v":0.91,"e":0.03},
      {"p":"d","s":"1073K Heating","T":344,"v":0.9,"e":0.03},
      {"p":"d","s":"1073K Heating","T":367,"v":0.88,"e":0.03},
      {"p":"d","s":"1073K Heating","T":389,"v":0.87,"e":0.03},
      {"p":"d","s":"1073K Heating","T":412,"v":0.88,"e":0.03},
      {"p":"d","s":"1073K Heating","T":434,"v":0.89,"e":0.03},
      {"p":"d","s":"1073K Heating","T":457,"v":0.87,"e":0.03},
      {"p":"d","s":"1073K Heating","T":480,"v":0.88,"e":0.03},
      {"p":"d","s":"1073K Heating","T":506,"v":0.87,"e":0.03},
      {"p":"d","s":"1073K Heating","T":525,"v":0.86,"e":0.03},
      {"p":"d","s":"1073K Heating","T":548,"v":0.86,"e":0.03},
      {"p":"d","s":"1073K Heating","T":570,"v":0.91,"e":0.03},
      {"p":"d","s":"1073K Heating","T":590,"v":0.87,"e":0.03},
      {"p":"d","s":"1073K Heating","T":610,"v":0.88,"e":0.04},
      {"p":"d","s":"1073K Heating","T":635,"v":0.9,"e":0.03},
      {"p":"d","s":"1073K Heating","T":654,"v":0.9,"e":0.04},
      {"p":"d","s":"1073K Heating","T":675,"v":0.92,"e":0.04},
      {"p":"d","s":"1073K Heating","T":696,"v":0.94,"e":0.12},
      {"p":"d","s":"1073K Heating","T":716,"v":0.89,"e":0.04},
      {"p":"d","s":"1073K Heating","T":737,"v":0.91,"e":0.05},
      {"p":"d","s":"1073K Heating","T":758,"v":0.91,"e":0.05},
      {"p":"d","s":"1073K Heating","T":778,"v":0.92,"e":0.06},
      {"p":"d","s":"1073K Heating","T":800,"v":0.95,"e":0.08},
      {"p":"d","s":"1073K Heating","T":821,"v":0.97,"e":0.13},
      {"p":"d","s":"1073K Heating","T":840,"v":0.86,"e":0.05},
      {"p":"d","s":"1073K Heating","T":864,"v":0.84,"e":0.05},
      {"p":"d","s":"1073K Heating","T":887,"v":0.81,"e":0.06},
      {"p":"d","s":"1073K Heating","T":906,"v":0.85,"e":0.15},
      {"p":"d","s":"1073K Heating","T":926,"v":0.91,"e":0.1},
      {"p":"d","s":"1073K Heating","T":948,"v":0.93,"e":0.05},
      {"p":"d","s":"1073K Heating","T":964,"v":0.77,"e":0.04},
      {"p":"d","s":"1073K Heating","T":990,"v":0.82,"e":0.03},
      {"p":"d","s":"1073K Heating","T":1010,"v":0.81,"e":0.03},
      {"p":"d","s":"1073K Heating","T":1029,"v":0.9,"e":0.07},
      {"p":"d","s":"1073K Heating","T":1048,"v":0.74,"e":0.03},
      {"p":"d","s":"1073K Heating","T":1065,"v":0.79,"e":0.03},
      {"p":"d","s":"1073K Cooling","T":305,"v":0.674,"e":0.02},
      {"p":"d","s":"1073K Cooling","T":325,"v":0.69,"e":0.02},
      {"p":"d","s":"1073K Cooling","T":347,"v":0.698,"e":0.02},
      {"p":"d","s":"1073K Cooling","T":369,"v":0.698,"e":0.02},
      {"p":"d","s":"1073K Cooling","T":391,"v":0.705,"e":0.02},
      {"p":"d","s":"1073K Cooling","T":412,"v":0.698,"e":0.02},
      {"p":"d","s":"1073K Cooling","T":433,"v":0.713,"e":0.02},
      {"p":"d","s":"1073K Cooling","T":454,"v":0.698,"e":0.02},
      {"p":"d","s":"1073K Cooling","T":475,"v":0.686,"e":0.02},
      {"p":"d","s":"1073K Cooling","T":496,"v":0.674,"e":0.02},
      {"p":"d","s":"1073K Cooling","T":517,"v":0.674,"e":0.02},
      {"p":"d","s":"1073K Cooling","T":538,"v":0.674,"e":0.02},
      {"p":"d","s":"1073K Cooling","T":559,"v":0.666,"e":0.02},
      {"p":"d","s":"1073K Cooling","T":580,"v":0.674,"e":0.02},
      {"p":"d","s":"1073K Cooling","T":601,"v":0.674,"e":0.04},
      {"p":"d","s":"1073K Cooling","T":622,"v":0.68,"e":0.02},
      {"p":"d","s":"1073K Cooling","T":643,"v":0.686,"e":0.03},
      {"p":"d","s":"1073K Cooling","T":662,"v":0.666,"e":0.04},
      {"p":"d","s":"1073K Cooling","T":683,"v":0.64,"e":0.02},
      {"p":"d","s":"1073K Cooling","T":703,"v":0.636,"e":0.02},
      {"p":"d","s":"1073K Cooling","T":722,"v":0.656,"e":0.02},
      {"p":"d","s":"1073K Cooling","T":741,"v":0.61,"e":0.02},
      {"p":"d","s":"1073K Cooling","T":761,"v":0.6,"e":0.02},
      {"p":"d","s":"1073K Cooling","T":782,"v":0.61,"e":0.02},
      {"p":"d","s":"1073K Cooling","T":802,"v":0.575,"e":0.02},
      {"p":"d","s":"1073K Cooling","T":823,"v":0.575,"e":0.02},
      {"p":"d","s":"1073K Cooling","T":843,"v":0.582,"e":0.02},
      {"p":"d","s":"1073K Cooling","T":864,"v":0.575,"e":0.02},
      {"p":"d","s":"1073K Cooling","T":884,"v":0.575,"e":0.02},
      {"p":"d","s":"1073K Cooling","T":905,"v":0.575,"e":0.02},
      {"p":"d","s":"1073K Cooling","T":926,"v":0.582,"e":0.02},
      {"p":"d","s":"1073K Cooling","T":945,"v":0.622,"e":0.02},
      {"p":"d","s":"1073K Cooling","T":968,"v":0.66,"e":0.03},
      {"p":"d","s":"1073K Cooling","T":987,"v":0.69,"e":0.02},
      {"p":"d","s":"1073K Cooling","T":1006,"v":0.71,"e":0.02},
      {"p":"d","s":"1073K Cooling","T":1029,"v":0.74,"e":0.04},
      {"p":"d","s":"1073K Cooling","T":1065,"v":0.78,"e":0.04}
    ]
  },
  "columns": 1,
  "align": "none",
  "spacing": {"row": 7, "column": 0},
  "concat": [
    {
      "width": 720,
      "height": 44,
      "view": {"stroke": null},
      "data": {"values": [
        {"s": "473K Heating", "k": "473K", "m": "Heating"},
        {"s": "473K Cooling", "k": "473K", "m": "Cooling"},
        {"s": "673K Heating", "k": "673K", "m": "Heating"},
        {"s": "673K Cooling", "k": "673K", "m": "Cooling"},
        {"s": "873K Heating", "k": "873K", "m": "Heating"},
        {"s": "873K Cooling", "k": "873K", "m": "Cooling"},
        {"s": "1073K Heating", "k": "1073K", "m": "Heating"},
        {"s": "1073K Cooling", "k": "1073K", "m": "Cooling"}
      ]},
      "encoding": {
        "x": {"field": "k", "type": "ordinal", "sort": ["473K", "673K", "873K", "1073K"], "scale": {"type": "point", "padding": 0, "range": [251.5, 714.4]}, "axis": null},
        "y": {"field": "m", "type": "ordinal", "sort": ["Heating", "Cooling"], "scale": {"type": "point", "padding": 0, "range": [10, 32]}, "axis": null}
      },
      "layer": [
        {
          "mark": {"type": "point", "shape": "M-1,0H1M0,-0.54V0.54M-0.23,-0.54H0.23M-0.23,0.54H0.23", "size": 1225, "filled": false, "strokeWidth": 1, "opacity": 1},
          "encoding": {
            "stroke": {"field": "s", "type": "nominal", "scale": {"domain": ["473K Heating", "473K Cooling", "673K Heating", "673K Cooling", "873K Heating", "873K Cooling", "1073K Heating", "1073K Cooling"], "range": ["#ff0000", "#0000ff", "#ff00ff", "#00ffff", "#00ff00", "#000000", "#ff0000", "#0000ff"]}, "legend": null}
          }
        },
        {
          "mark": {"type": "point", "filled": true, "strokeWidth": 1, "opacity": 1},
          "encoding": {
            "color": {"field": "s", "type": "nominal", "scale": {"domain": ["473K Heating", "473K Cooling", "673K Heating", "673K Cooling", "873K Heating", "873K Cooling", "1073K Heating", "1073K Cooling"], "range": ["#ff0000", "#0000ff", "#ff00ff", "#00ffff", "#00ff00", "#000000", "#ff0000", "#0000ff"]}, "legend": null},
            "stroke": {"field": "s", "type": "nominal", "legend": null},
            "shape": {"field": "s", "type": "nominal", "scale": {"domain": ["473K Heating", "473K Cooling", "673K Heating", "673K Cooling", "873K Heating", "873K Cooling", "1073K Heating", "1073K Cooling"], "range": ["M0,-1V1M-1,0H1M-0.7,-0.7L0.7,0.7M-0.7,0.7L0.7,-0.7", "circle", "M0,-1V1M-1,0H1M-0.7,-0.7L0.7,0.7M-0.7,0.7L0.7,-0.7", "square", "M0,-1L0.7,0L0,1L-0.7,0Z", "M0,-1L0.2245,-0.309L0.951,-0.309L0.3633,0.118L0.588,0.809L0,0.382L-0.588,0.809L-0.3633,0.118L-0.951,-0.309L-0.2245,-0.309Z", "M0,-1L0.2887,-0.5L0.866,-0.5L0.577,0L0.866,0.5L0.2887,0.5L0,1L-0.2887,0.5L-0.866,0.5L-0.577,0L-0.866,-0.5L-0.2887,-0.5Z", "M0,-0.95L1,0.8L-1,0.8Z"]}, "legend": null},
            "size": {"field": "s", "type": "nominal", "scale": {"domain": ["473K Heating", "473K Cooling", "673K Heating", "673K Cooling", "873K Heating", "873K Cooling", "1073K Heating", "1073K Cooling"], "range": [70, 250, 200, 190, 380, 460, 440, 440]}, "legend": null}
          }
        },
        {
          "mark": {"type": "text", "align": "left", "baseline": "middle", "dx": 21, "fontSize": 17.6, "color": "#000000"},
          "encoding": {"text": {"field": "s"}}
        }
      ]
    },
    {
      "spacing": 31,
      "hconcat": [
        {
          "width": 481,
          "height": 409,
          "layer": [
            {
              "data": {"values": [{"t0": 493, "t1": 549}]},
              "mark": {"type": "rect", "opacity": 0.9, "color": {"gradient": "linear", "x1": 0, "y1": 0, "x2": 1, "y2": 0, "stops": [{"offset": 0, "color": "#f6bfa6"}, {"offset": 1, "color": "#fce4d9"}]}},
              "encoding": {
                "x": {"field": "t0", "type": "quantitative", "scale": {"domain": [275, 1100], "nice": false, "zero": false}},
                "x2": {"field": "t1"}
              }
            },
            {
              "data": {"name": "pts"},
              "transform": [{"filter": "datum.p === 'a'"}],
              "encoding": {
                "x": {"field": "T", "type": "quantitative", "scale": {"domain": [275, 1100], "nice": false, "zero": false}, "axis": {"title": "Temperature (K)", "values": [300, 400, 500, 600, 700, 800, 900, 1000, 1100], "format": "d"}},
                "y": {"field": "v", "type": "quantitative", "scale": {"domain": [-18, 2], "nice": false, "zero": false}, "axis": {"title": "Thermal Diffusivity Diff. m²s⁻¹", "values": [-18, -16, -14, -12, -10, -8, -6, -4, -2, 0, 2], "format": "~g", "labelExpr": "replace(datum.label, '−', '-')"}},
                "color": {"field": "s", "type": "nominal", "legend": null}
              },
              "layer": [
                {"mark": {"type": "line", "strokeWidth": 1}},
                {"mark": {"type": "errorbar", "thickness": 1, "ticks": {"size": 10}}, "encoding": {"yError": {"field": "e"}}},
                {"mark": {"type": "point", "filled": true, "strokeWidth": 1, "opacity": 1}, "encoding": {"stroke": {"field": "s", "type": "nominal", "legend": null}, "shape": {"field": "s", "type": "nominal", "legend": null}, "size": {"field": "s", "type": "nominal", "legend": null}}}
              ]
            },
            {
              "data": {"values": [{}]},
              "mark": {"type": "text", "text": "×10", "align": "left", "baseline": "alphabetic", "dy": -6, "fontSize": 16, "color": "#262626"},
              "encoding": {"x": {"datum": 275, "type": "quantitative"}, "y": {"datum": 2, "type": "quantitative"}}
            },
            {
              "data": {"values": [{}]},
              "mark": {"type": "text", "text": "-6", "align": "left", "baseline": "alphabetic", "dx": 27.5, "dy": -13, "fontSize": 12, "color": "#262626"},
              "encoding": {"x": {"datum": 275, "type": "quantitative"}, "y": {"datum": 2, "type": "quantitative"}}
            },
            {
              "data": {"values": [{}]},
              "mark": {"type": "text", "text": "(a)", "align": "left", "baseline": "alphabetic", "dx": -65, "dy": -8, "fontSize": 24, "color": "#000000"},
              "encoding": {"x": {"datum": 275, "type": "quantitative"}, "y": {"datum": 2, "type": "quantitative"}}
            },
            {
              "data": {"values": [{}]},
              "mark": {"type": "text", "text": "0.0032 dpa", "angle": 270, "align": "center", "baseline": "alphabetic", "dx": 11, "dy": -93, "fontSize": 41, "fontWeight": "bold", "color": "#000000"},
              "encoding": {"x": {"datum": 275, "type": "quantitative"}, "y": {"datum": -8, "type": "quantitative"}}
            }
          ]
        },
        {
          "width": 486,
          "height": 409,
          "layer": [
            {
              "data": {"values": [{"t0": 493, "t1": 549}]},
              "mark": {"type": "rect", "opacity": 0.9, "color": {"gradient": "linear", "x1": 0, "y1": 0, "x2": 1, "y2": 0, "stops": [{"offset": 0, "color": "#f6bfa6"}, {"offset": 1, "color": "#fce4d9"}]}},
              "encoding": {
                "x": {"field": "t0", "type": "quantitative", "scale": {"domain": [275, 1100], "nice": false, "zero": false}},
                "x2": {"field": "t1"}
              }
            },
            {
              "data": {"name": "pts"},
              "transform": [{"filter": "datum.p === 'b'"}],
              "encoding": {
                "x": {"field": "T", "type": "quantitative", "scale": {"domain": [275, 1100], "nice": false, "zero": false}, "axis": {"title": "Temperature (K)", "values": [300, 400, 500, 600, 700, 800, 900, 1000, 1100], "format": "d"}},
                "y": {"field": "v", "type": "quantitative", "scale": {"domain": [-3, 7.96], "nice": false, "zero": false}, "axis": {"title": "Eq. Frenkel Pair Density (at. fr.)", "values": [-3, -2, -1, 0, 1, 2, 3, 4, 5, 6, 7], "format": "~g", "labelExpr": "replace(datum.label, '−', '-')"}},
                "color": {"field": "s", "type": "nominal", "legend": null}
              },
              "layer": [
                {"mark": {"type": "line", "strokeWidth": 1}},
                {"mark": {"type": "errorbar", "thickness": 1, "ticks": {"size": 10}}, "encoding": {"yError": {"field": "e"}}},
                {"mark": {"type": "point", "filled": true, "strokeWidth": 1, "opacity": 1}, "encoding": {"stroke": {"field": "s", "type": "nominal", "legend": null}, "shape": {"field": "s", "type": "nominal", "legend": null}, "size": {"field": "s", "type": "nominal", "legend": null}}}
              ]
            },
            {
              "data": {"values": [{}]},
              "mark": {"type": "text", "text": "×10", "align": "left", "baseline": "alphabetic", "dy": -6, "fontSize": 16, "color": "#262626"},
              "encoding": {"x": {"datum": 275, "type": "quantitative"}, "y": {"datum": 7.96, "type": "quantitative"}}
            },
            {
              "data": {"values": [{}]},
              "mark": {"type": "text", "text": "-4", "align": "left", "baseline": "alphabetic", "dx": 27.5, "dy": -13, "fontSize": 12, "color": "#262626"},
              "encoding": {"x": {"datum": 275, "type": "quantitative"}, "y": {"datum": 7.96, "type": "quantitative"}}
            },
            {
              "data": {"values": [{}]},
              "mark": {"type": "text", "text": "(b)", "align": "left", "baseline": "alphabetic", "dx": -75, "dy": -8, "fontSize": 24, "color": "#000000"},
              "encoding": {"x": {"datum": 275, "type": "quantitative"}, "y": {"datum": 7.96, "type": "quantitative"}}
            }
          ]
        }
      ]
    },
    {
      "spacing": 24,
      "hconcat": [
        {
          "width": 487,
          "height": 406,
          "layer": [
            {
              "data": {"values": [{"t0": 493, "t1": 549}]},
              "mark": {"type": "rect", "opacity": 0.9, "color": {"gradient": "linear", "x1": 0, "y1": 0, "x2": 1, "y2": 0, "stops": [{"offset": 0, "color": "#f6bfa6"}, {"offset": 1, "color": "#fce4d9"}]}},
              "encoding": {
                "x": {"field": "t0", "type": "quantitative", "scale": {"domain": [275, 1100], "nice": false, "zero": false}},
                "x2": {"field": "t1"}
              }
            },
            {
              "data": {"name": "pts"},
              "transform": [{"filter": "datum.p === 'c'"}],
              "encoding": {
                "x": {"field": "T", "type": "quantitative", "scale": {"domain": [275, 1100], "nice": false, "zero": false}, "axis": {"title": "Temperature (K)", "values": [300, 400, 500, 600, 700, 800, 900, 1000, 1100], "format": "d"}},
                "y": {"field": "v", "type": "quantitative", "scale": {"domain": [-4, 0], "nice": false, "zero": false}, "axis": {"title": "Thermal Diffusivity Diff. m²s⁻¹", "values": [-4, -3.5, -3, -2.5, -2, -1.5, -1, -0.5, 0], "format": "~g", "labelExpr": "replace(datum.label, '−', '-')"}},
                "color": {"field": "s", "type": "nominal", "legend": null}
              },
              "layer": [
                {"mark": {"type": "line", "strokeWidth": 1}},
                {"mark": {"type": "errorbar", "thickness": 1, "ticks": {"size": 10}}, "encoding": {"yError": {"field": "e"}}},
                {"mark": {"type": "point", "filled": true, "strokeWidth": 1, "opacity": 1}, "encoding": {"stroke": {"field": "s", "type": "nominal", "legend": null}, "shape": {"field": "s", "type": "nominal", "legend": null}, "size": {"field": "s", "type": "nominal", "legend": null}}}
              ]
            },
            {
              "data": {"values": [{}]},
              "mark": {"type": "text", "text": "×10", "align": "left", "baseline": "alphabetic", "dy": -6, "fontSize": 16, "color": "#262626"},
              "encoding": {"x": {"datum": 275, "type": "quantitative"}, "y": {"datum": 0, "type": "quantitative"}}
            },
            {
              "data": {"values": [{}]},
              "mark": {"type": "text", "text": "-5", "align": "left", "baseline": "alphabetic", "dx": 27.5, "dy": -13, "fontSize": 12, "color": "#262626"},
              "encoding": {"x": {"datum": 275, "type": "quantitative"}, "y": {"datum": 0, "type": "quantitative"}}
            },
            {
              "data": {"values": [{}]},
              "mark": {"type": "text", "text": "(c)", "align": "left", "baseline": "alphabetic", "dx": -64, "dy": -5, "fontSize": 24, "color": "#000000"},
              "encoding": {"x": {"datum": 275, "type": "quantitative"}, "y": {"datum": 0, "type": "quantitative"}}
            },
            {
              "data": {"values": [{}]},
              "mark": {"type": "text", "text": "0.32 dpa", "angle": 270, "align": "center", "baseline": "alphabetic", "dx": -4, "dy": -93, "fontSize": 41, "fontWeight": "bold", "color": "#000000"},
              "encoding": {"x": {"datum": 275, "type": "quantitative"}, "y": {"datum": -2, "type": "quantitative"}}
            }
          ]
        },
        {
          "width": 482,
          "height": 406,
          "layer": [
            {
              "data": {"values": [{"t0": 493, "t1": 549}]},
              "mark": {"type": "rect", "opacity": 0.9, "color": {"gradient": "linear", "x1": 0, "y1": 0, "x2": 1, "y2": 0, "stops": [{"offset": 0, "color": "#f6bfa6"}, {"offset": 1, "color": "#fce4d9"}]}},
              "encoding": {
                "x": {"field": "t0", "type": "quantitative", "scale": {"domain": [275, 1100], "nice": false, "zero": false}},
                "x2": {"field": "t1"}
              }
            },
            {
              "data": {"name": "pts"},
              "transform": [{"filter": "datum.p === 'd'"}],
              "encoding": {
                "x": {"field": "T", "type": "quantitative", "scale": {"domain": [275, 1100], "nice": false, "zero": false}, "axis": {"title": "Temperature (K)", "values": [300, 400, 500, 600, 700, 800, 900, 1000, 1100], "format": "d"}},
                "y": {"field": "v", "type": "quantitative", "scale": {"domain": [0, 3], "nice": false, "zero": false}, "axis": {"title": "Eq. Frenkel Pair Density (at. fr.)", "values": [0, 0.5, 1, 1.5, 2, 2.5, 3], "format": "~g"}},
                "color": {"field": "s", "type": "nominal", "legend": null}
              },
              "layer": [
                {"mark": {"type": "line", "strokeWidth": 1}},
                {"mark": {"type": "errorbar", "thickness": 1, "ticks": {"size": 10}}, "encoding": {"yError": {"field": "e"}}},
                {"mark": {"type": "point", "filled": true, "strokeWidth": 1, "opacity": 1}, "encoding": {"stroke": {"field": "s", "type": "nominal", "legend": null}, "shape": {"field": "s", "type": "nominal", "legend": null}, "size": {"field": "s", "type": "nominal", "legend": null}}}
              ]
            },
            {
              "data": {"values": [{}]},
              "mark": {"type": "text", "text": "×10", "align": "left", "baseline": "alphabetic", "dy": -6, "fontSize": 16, "color": "#262626"},
              "encoding": {"x": {"datum": 275, "type": "quantitative"}, "y": {"datum": 3, "type": "quantitative"}}
            },
            {
              "data": {"values": [{}]},
              "mark": {"type": "text", "text": "-3", "align": "left", "baseline": "alphabetic", "dx": 27.5, "dy": -13, "fontSize": 12, "color": "#262626"},
              "encoding": {"x": {"datum": 275, "type": "quantitative"}, "y": {"datum": 3, "type": "quantitative"}}
            },
            {
              "data": {"values": [{}]},
              "mark": {"type": "text", "text": "(d)", "align": "left", "baseline": "alphabetic", "dx": -81, "dy": -5, "fontSize": 24, "color": "#000000"},
              "encoding": {"x": {"datum": 275, "type": "quantitative"}, "y": {"datum": 3, "type": "quantitative"}}
            }
          ]
        }
      ]
    }
  ]
}
